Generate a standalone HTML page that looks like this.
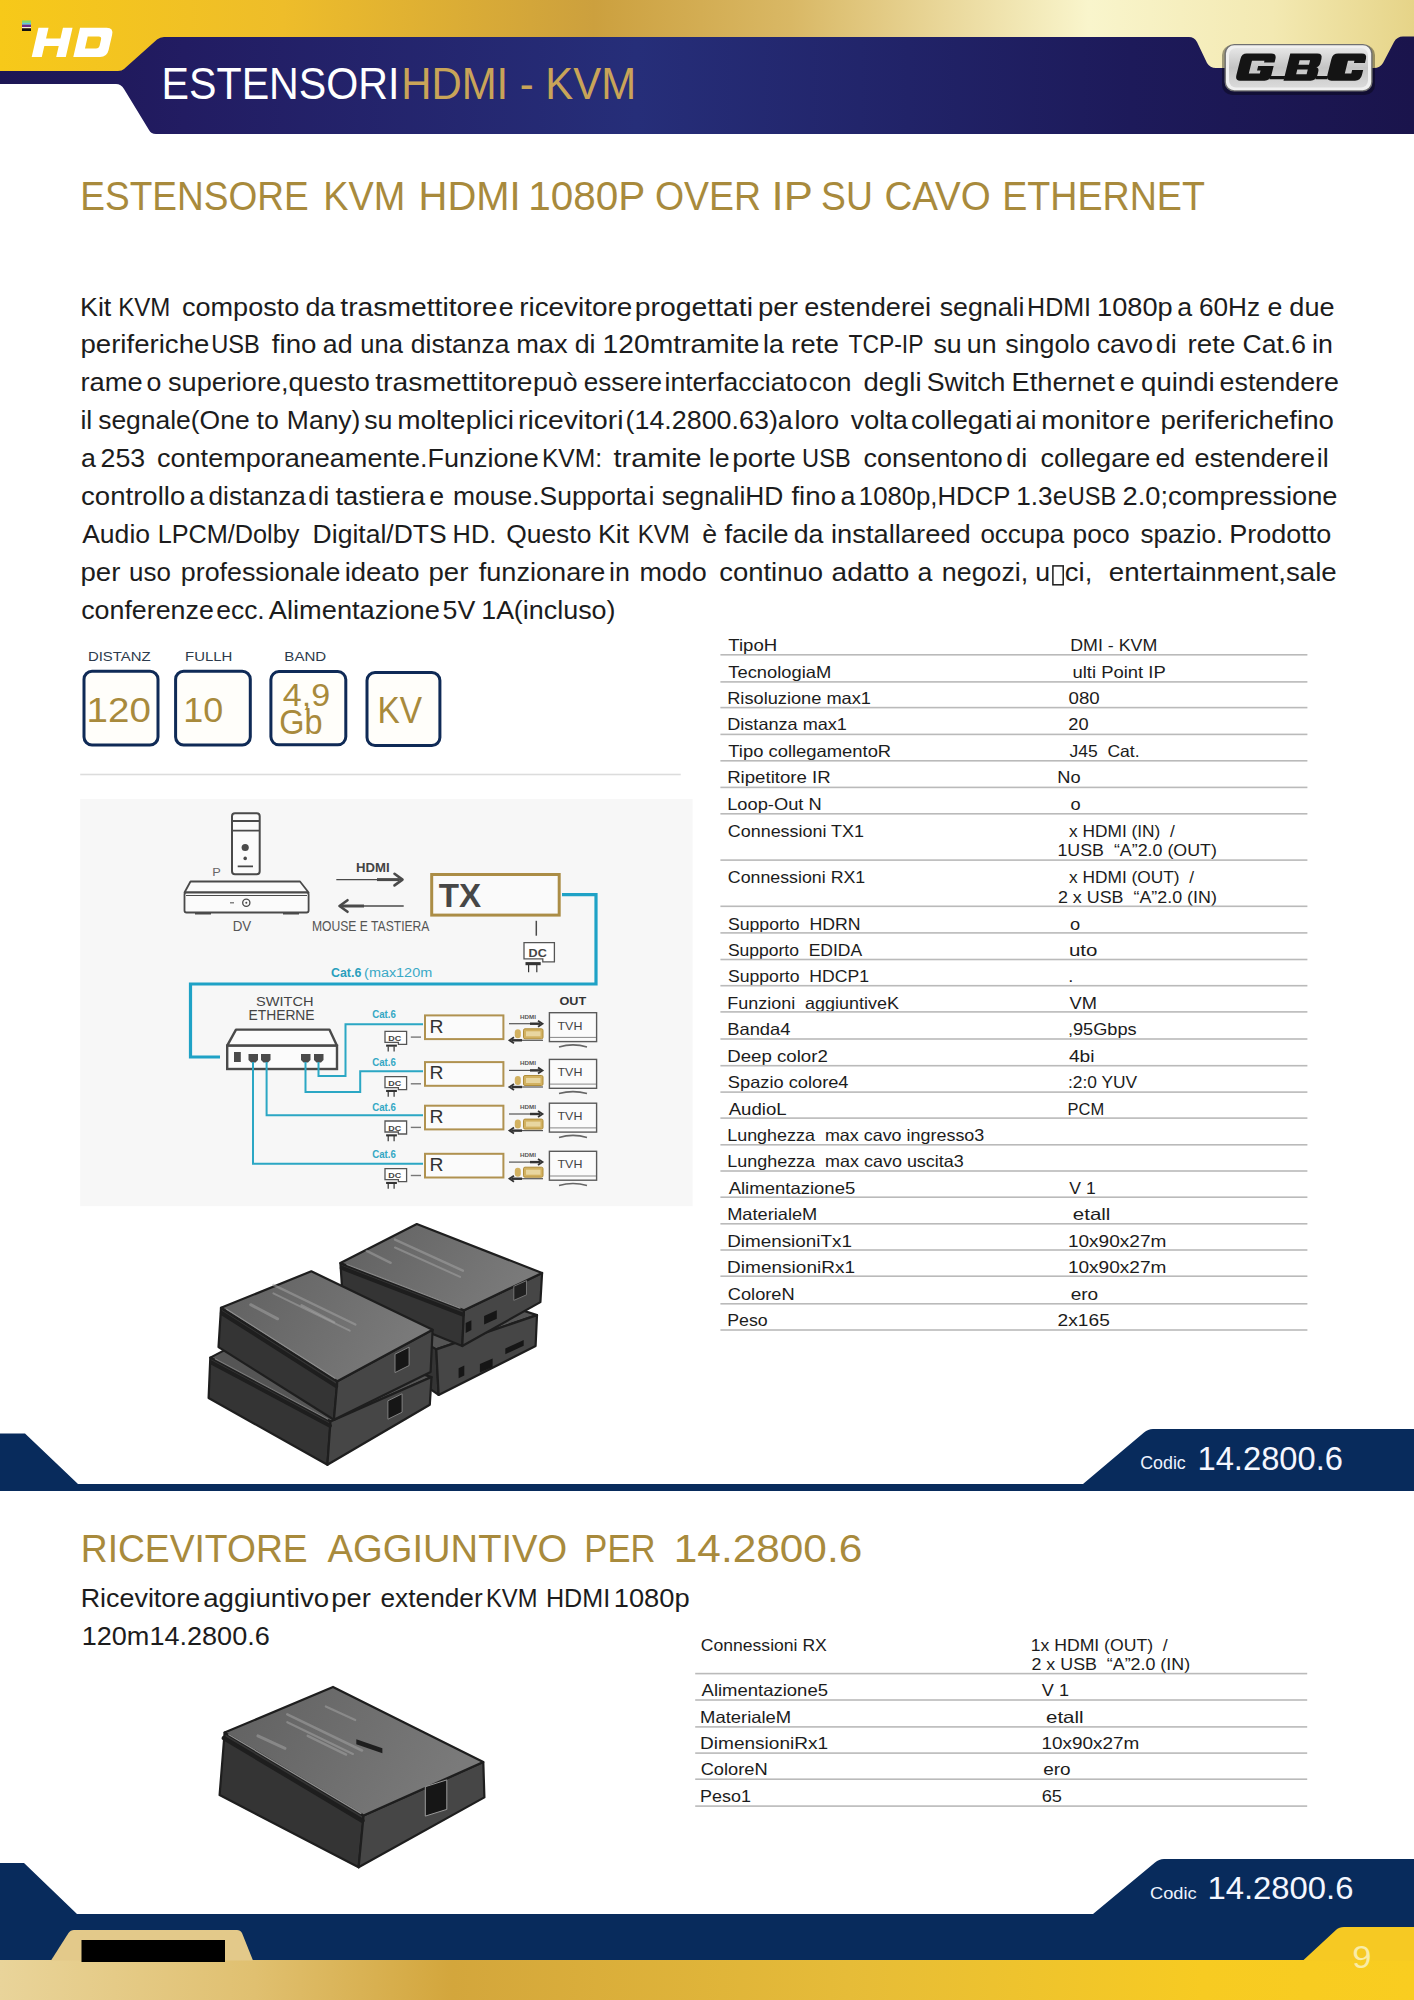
<!DOCTYPE html>
<html><head><meta charset="utf-8"><title>Estensori HDMI - KVM</title>
<style>
html,body{margin:0;padding:0;background:#fff;width:1414px;height:2000px;overflow:hidden}
svg{display:block;position:absolute;left:0;top:0}
text{font-family:"Liberation Sans",sans-serif;white-space:pre}
</style></head><body>
<svg width="1414" height="2000" viewBox="0 0 1414 2000">
<defs>
<linearGradient id="gTop" x1="0" y1="0" x2="1414" y2="0" gradientUnits="userSpaceOnUse">
<stop offset="0" stop-color="#f7c919"/><stop offset="0.2" stop-color="#eebd2a"/>
<stop offset="0.42" stop-color="#cca03e"/><stop offset="0.56" stop-color="#d9b865"/>
<stop offset="0.77" stop-color="#f9f5cc"/><stop offset="0.9" stop-color="#f3e9b2"/>
<stop offset="1" stop-color="#e6d488"/></linearGradient>
<linearGradient id="gNavy" x1="0" y1="0" x2="1414" y2="0" gradientUnits="userSpaceOnUse">
<stop offset="0" stop-color="#1d1654"/><stop offset="0.13" stop-color="#221c62"/><stop offset="0.45" stop-color="#262e79"/>
<stop offset="0.8" stop-color="#1d1a5a"/><stop offset="1" stop-color="#1a144c"/></linearGradient>
<linearGradient id="gSilver" x1="0" y1="0" x2="0" y2="1">
<stop offset="0" stop-color="#e6e6e6"/><stop offset="0.5" stop-color="#c4c4c4"/><stop offset="1" stop-color="#dadada"/></linearGradient>
<linearGradient id="gBot" x1="0" y1="0" x2="1414" y2="0" gradientUnits="userSpaceOnUse">
<stop offset="0" stop-color="#e9d49a"/><stop offset="0.18" stop-color="#e0c070"/>
<stop offset="0.32" stop-color="#d3a63c"/><stop offset="0.6" stop-color="#e6bc38"/>
<stop offset="0.85" stop-color="#f7cb22"/><stop offset="1" stop-color="#f9cd20"/></linearGradient>
</defs>
<rect x="0" y="0" width="1414" height="80" fill="url(#gTop)"/>
<path d="M0 71 L118 71 Q122 71 124 69 L157 39.5 Q160 37 164 37 L1188 37 Q1194 36.5 1197 42 L1207 63 Q1210 68 1216 68 L1374 68 Q1380 68 1383 63 L1394 42 Q1397 36.5 1403 36.5 L1414 36.5 L1414 134 L156 134 Q151 134 149 130 L124 89 Q121 84 116 84 L0 84 Z" fill="url(#gNavy)"/>
<g transform="translate(0,57) skewX(-13) translate(0,-57)" fill="#ffffff"><path d="M31.7 27.8 H41.8 V38.6 H56.2 V27.8 H65.8 V57 H56.2 V46 H41.8 V57 H31.7 Z"/><path fill-rule="evenodd" d="M73.3 27.8 H100 Q107 27.8 107 35 V50 Q107 57 100 57 H73.3 Z M83 36.6 V48.4 H94 Q97 48.4 97 45.5 V39.5 Q97 36.6 94 36.6 Z"/></g>
<rect x="22" y="20.5" width="9" height="2.2" fill="#7fdc6a"/><rect x="22" y="22.7" width="9" height="2" fill="#5fc8e0"/><rect x="22" y="24.7" width="9" height="2.3" fill="#6a2d8a"/><rect x="22" y="27" width="9" height="1.3" fill="#f4f0d8"/><rect x="22" y="28.3" width="9" height="2.7" fill="#111"/>
<rect x="1222" y="45" width="153" height="50" rx="10" fill="#000" opacity="0.35"/>
<rect x="1225.2" y="44.6" width="146.7" height="46.3" rx="9" fill="#f0f0f0" stroke="#707070" stroke-width="1.4"/>
<rect x="1229" y="48" width="139" height="39.5" rx="7" fill="url(#gSilver)"/>
<g transform="translate(0,80.7) skewX(-14) translate(0,-80.7)" fill="#141414" fill-rule="evenodd"><path d="M1240 53.6 H1264.5 Q1270 53.6 1270 59 V62.5 H1259.5 V60.8 H1247 V73.5 H1258 V70.5 H1254.5 V66 H1270 V75 Q1270 80.7 1264.5 80.7 H1240 Q1235 80.7 1235 75 V59 Q1235 53.6 1240 53.6 Z"/><path d="M1269 76 H1284 V79.3 H1269 Z"/><path d="M1283.5 53.6 H1310.5 Q1316 53.6 1316 59 V63 Q1316 66.5 1313 67.2 Q1316 68 1316 71.5 V75 Q1316 80.7 1310.5 80.7 H1283.5 Z M1294.5 60.2 V64.8 H1305 V60.2 Z M1294.5 69.5 V74.2 H1305 V69.5 Z"/><path d="M1315 76 H1327 V79.3 H1315 Z"/><path d="M1331.5 53.6 H1355 Q1360.5 53.6 1360.5 59 V63 H1349.5 V60.8 H1343 V73.5 H1349.5 V70 H1360.5 V75 Q1360.5 80.7 1355 80.7 H1331.5 Q1326 80.7 1326 75 V59 Q1326 53.6 1331.5 53.6 Z"/></g>
<text x="161.52" y="98.80" font-size="45.06" fill="#ffffff" textLength="238.06" lengthAdjust="spacingAndGlyphs">ESTENSORI</text>
<text x="401.17" y="98.80" font-size="45.06" fill="#c9a458" textLength="234.96" lengthAdjust="spacingAndGlyphs">HDMI - KVM</text>
<text x="80.37" y="210.30" font-size="40.12" fill="#a88a3c" textLength="228.23" lengthAdjust="spacingAndGlyphs">ESTENSORE</text>
<text x="323.30" y="210.30" font-size="40.12" fill="#a88a3c" textLength="82.01" lengthAdjust="spacingAndGlyphs">KVM</text>
<text x="418.62" y="210.30" font-size="40.12" fill="#a88a3c" textLength="102.06" lengthAdjust="spacingAndGlyphs">HDMI</text>
<text x="528.32" y="210.30" font-size="40.12" fill="#a88a3c" textLength="117.00" lengthAdjust="spacingAndGlyphs">1080P</text>
<text x="654.94" y="210.30" font-size="40.12" fill="#a88a3c" textLength="105.98" lengthAdjust="spacingAndGlyphs">OVER</text>
<text x="771.59" y="210.30" font-size="40.12" fill="#a88a3c" textLength="41.22" lengthAdjust="spacingAndGlyphs">IP</text>
<text x="821.12" y="210.30" font-size="40.12" fill="#a88a3c" textLength="51.75" lengthAdjust="spacingAndGlyphs">SU</text>
<text x="884.44" y="210.30" font-size="40.12" fill="#a88a3c" textLength="106.30" lengthAdjust="spacingAndGlyphs">CAVO</text>
<text x="1002.22" y="210.30" font-size="40.12" fill="#a88a3c" textLength="202.66" lengthAdjust="spacingAndGlyphs">ETHERNET</text>
<text x="80.00" y="315.50" font-size="25.73" fill="#1c1c1c" textLength="31.29" lengthAdjust="spacingAndGlyphs">Kit</text>
<text x="118.23" y="315.50" font-size="25.73" fill="#1c1c1c" textLength="52.12" lengthAdjust="spacingAndGlyphs">KVM</text>
<text x="181.96" y="315.50" font-size="25.73" fill="#1c1c1c" textLength="117.44" lengthAdjust="spacingAndGlyphs">composto</text>
<text x="305.48" y="315.50" font-size="25.73" fill="#1c1c1c" textLength="29.76" lengthAdjust="spacingAndGlyphs">da</text>
<text x="340.28" y="315.50" font-size="25.73" fill="#1c1c1c" textLength="157.27" lengthAdjust="spacingAndGlyphs">trasmettitore</text>
<text x="498.68" y="315.50" font-size="25.73" fill="#1c1c1c" textLength="14.88" lengthAdjust="spacingAndGlyphs">e</text>
<text x="519.16" y="315.50" font-size="25.73" fill="#1c1c1c" textLength="113.20" lengthAdjust="spacingAndGlyphs">ricevitore</text>
<text x="634.79" y="315.50" font-size="25.73" fill="#1c1c1c" textLength="118.18" lengthAdjust="spacingAndGlyphs">progettati</text>
<text x="758.03" y="315.50" font-size="25.73" fill="#1c1c1c" textLength="39.91" lengthAdjust="spacingAndGlyphs">per</text>
<text x="804.26" y="315.50" font-size="25.73" fill="#1c1c1c" textLength="126.85" lengthAdjust="spacingAndGlyphs">estenderei</text>
<text x="939.75" y="315.50" font-size="25.73" fill="#1c1c1c" textLength="84.76" lengthAdjust="spacingAndGlyphs">segnali</text>
<text x="1027.05" y="315.50" font-size="25.73" fill="#1c1c1c" textLength="63.99" lengthAdjust="spacingAndGlyphs">HDMI</text>
<text x="1097.13" y="315.50" font-size="25.73" fill="#1c1c1c" textLength="75.58" lengthAdjust="spacingAndGlyphs">1080p</text>
<text x="1177.38" y="315.50" font-size="25.73" fill="#1c1c1c" textLength="14.88" lengthAdjust="spacingAndGlyphs">a</text>
<text x="1198.96" y="315.50" font-size="25.73" fill="#1c1c1c" textLength="61.13" lengthAdjust="spacingAndGlyphs">60Hz</text>
<text x="1267.58" y="315.50" font-size="25.73" fill="#1c1c1c" textLength="14.88" lengthAdjust="spacingAndGlyphs">e</text>
<text x="1289.36" y="315.50" font-size="25.73" fill="#1c1c1c" textLength="45.24" lengthAdjust="spacingAndGlyphs">due</text>
<text x="80.43" y="353.30" font-size="25.73" fill="#1c1c1c" textLength="129.01" lengthAdjust="spacingAndGlyphs">periferiche</text>
<text x="211.18" y="353.30" font-size="25.73" fill="#1c1c1c" textLength="48.56" lengthAdjust="spacingAndGlyphs">USB</text>
<text x="271.81" y="353.30" font-size="25.73" fill="#1c1c1c" textLength="44.72" lengthAdjust="spacingAndGlyphs">fino</text>
<text x="322.88" y="353.30" font-size="25.73" fill="#1c1c1c" textLength="29.76" lengthAdjust="spacingAndGlyphs">ad</text>
<text x="360.34" y="353.30" font-size="25.73" fill="#1c1c1c" textLength="42.60" lengthAdjust="spacingAndGlyphs">una</text>
<text x="410.89" y="353.30" font-size="25.73" fill="#1c1c1c" textLength="98.69" lengthAdjust="spacingAndGlyphs">distanza</text>
<text x="516.20" y="353.30" font-size="25.73" fill="#1c1c1c" textLength="51.43" lengthAdjust="spacingAndGlyphs">max</text>
<text x="574.68" y="353.30" font-size="25.73" fill="#1c1c1c" textLength="20.83" lengthAdjust="spacingAndGlyphs">di</text>
<text x="602.55" y="353.30" font-size="25.73" fill="#1c1c1c" textLength="156.89" lengthAdjust="spacingAndGlyphs">120mtramite</text>
<text x="763.11" y="353.30" font-size="25.73" fill="#1c1c1c" textLength="20.83" lengthAdjust="spacingAndGlyphs">la</text>
<text x="791.07" y="353.30" font-size="25.73" fill="#1c1c1c" textLength="47.90" lengthAdjust="spacingAndGlyphs">rete</text>
<text x="848.40" y="353.30" font-size="25.73" fill="#1c1c1c" textLength="75.15" lengthAdjust="spacingAndGlyphs">TCP-IP</text>
<text x="933.45" y="353.30" font-size="25.73" fill="#1c1c1c" textLength="28.26" lengthAdjust="spacingAndGlyphs">su</text>
<text x="966.76" y="353.30" font-size="25.73" fill="#1c1c1c" textLength="29.76" lengthAdjust="spacingAndGlyphs">un</text>
<text x="1005.25" y="353.30" font-size="25.73" fill="#1c1c1c" textLength="84.93" lengthAdjust="spacingAndGlyphs">singolo</text>
<text x="1096.78" y="353.30" font-size="25.73" fill="#1c1c1c" textLength="56.41" lengthAdjust="spacingAndGlyphs">cavo</text>
<text x="1155.88" y="353.30" font-size="25.73" fill="#1c1c1c" textLength="20.83" lengthAdjust="spacingAndGlyphs">di</text>
<text x="1187.57" y="353.30" font-size="25.73" fill="#1c1c1c" textLength="47.90" lengthAdjust="spacingAndGlyphs">rete</text>
<text x="1242.55" y="353.30" font-size="25.73" fill="#1c1c1c" textLength="63.45" lengthAdjust="spacingAndGlyphs">Cat.6</text>
<text x="1312.11" y="353.30" font-size="25.73" fill="#1c1c1c" textLength="20.83" lengthAdjust="spacingAndGlyphs">in</text>
<text x="80.40" y="391.00" font-size="25.73" fill="#1c1c1c" textLength="62.29" lengthAdjust="spacingAndGlyphs">rame</text>
<text x="146.48" y="391.00" font-size="25.73" fill="#1c1c1c" textLength="14.88" lengthAdjust="spacingAndGlyphs">o</text>
<text x="168.04" y="391.00" font-size="25.73" fill="#1c1c1c" textLength="201.82" lengthAdjust="spacingAndGlyphs">superiore,questo</text>
<text x="375.28" y="391.00" font-size="25.73" fill="#1c1c1c" textLength="157.17" lengthAdjust="spacingAndGlyphs">trasmettitore</text>
<text x="532.99" y="391.00" font-size="25.73" fill="#1c1c1c" textLength="44.49" lengthAdjust="spacingAndGlyphs">può</text>
<text x="583.80" y="391.00" font-size="25.73" fill="#1c1c1c" textLength="78.33" lengthAdjust="spacingAndGlyphs">essere</text>
<text x="664.62" y="391.00" font-size="25.73" fill="#1c1c1c" textLength="143.01" lengthAdjust="spacingAndGlyphs">interfacciato</text>
<text x="808.89" y="391.00" font-size="25.73" fill="#1c1c1c" textLength="42.59" lengthAdjust="spacingAndGlyphs">con</text>
<text x="863.55" y="391.00" font-size="25.73" fill="#1c1c1c" textLength="58.01" lengthAdjust="spacingAndGlyphs">degli</text>
<text x="926.80" y="391.00" font-size="25.73" fill="#1c1c1c" textLength="78.68" lengthAdjust="spacingAndGlyphs">Switch</text>
<text x="1011.57" y="391.00" font-size="25.73" fill="#1c1c1c" textLength="102.92" lengthAdjust="spacingAndGlyphs">Ethernet</text>
<text x="1119.88" y="391.00" font-size="25.73" fill="#1c1c1c" textLength="14.88" lengthAdjust="spacingAndGlyphs">e</text>
<text x="1141.04" y="391.00" font-size="25.73" fill="#1c1c1c" textLength="73.68" lengthAdjust="spacingAndGlyphs">quindi</text>
<text x="1219.57" y="391.00" font-size="25.73" fill="#1c1c1c" textLength="119.40" lengthAdjust="spacingAndGlyphs">estendere</text>
<text x="80.41" y="428.90" font-size="25.73" fill="#1c1c1c" textLength="11.89" lengthAdjust="spacingAndGlyphs">il</text>
<text x="98.16" y="428.90" font-size="25.73" fill="#1c1c1c" textLength="151.46" lengthAdjust="spacingAndGlyphs">segnale(One</text>
<text x="256.60" y="428.90" font-size="25.73" fill="#1c1c1c" textLength="22.31" lengthAdjust="spacingAndGlyphs">to</text>
<text x="286.83" y="428.90" font-size="25.73" fill="#1c1c1c" textLength="73.61" lengthAdjust="spacingAndGlyphs">Many)</text>
<text x="364.25" y="428.90" font-size="25.73" fill="#1c1c1c" textLength="28.26" lengthAdjust="spacingAndGlyphs">su</text>
<text x="397.25" y="428.90" font-size="25.73" fill="#1c1c1c" textLength="116.64" lengthAdjust="spacingAndGlyphs">molteplici</text>
<text x="518.13" y="428.90" font-size="25.73" fill="#1c1c1c" textLength="105.35" lengthAdjust="spacingAndGlyphs">ricevitori</text>
<text x="625.53" y="428.90" font-size="25.73" fill="#1c1c1c" textLength="167.27" lengthAdjust="spacingAndGlyphs">(14.2800.63)a</text>
<text x="794.50" y="428.90" font-size="25.73" fill="#1c1c1c" textLength="44.76" lengthAdjust="spacingAndGlyphs">loro</text>
<text x="850.72" y="428.90" font-size="25.73" fill="#1c1c1c" textLength="56.89" lengthAdjust="spacingAndGlyphs">volta</text>
<text x="910.94" y="428.90" font-size="25.73" fill="#1c1c1c" textLength="101.46" lengthAdjust="spacingAndGlyphs">collegati</text>
<text x="1015.58" y="428.90" font-size="25.73" fill="#1c1c1c" textLength="20.83" lengthAdjust="spacingAndGlyphs">ai</text>
<text x="1041.37" y="428.90" font-size="25.73" fill="#1c1c1c" textLength="92.59" lengthAdjust="spacingAndGlyphs">monitor</text>
<text x="1135.88" y="428.90" font-size="25.73" fill="#1c1c1c" textLength="14.88" lengthAdjust="spacingAndGlyphs">e</text>
<text x="1160.43" y="428.90" font-size="25.73" fill="#1c1c1c" textLength="173.43" lengthAdjust="spacingAndGlyphs">periferichefino</text>
<text x="81.08" y="466.70" font-size="25.73" fill="#1c1c1c" textLength="14.88" lengthAdjust="spacingAndGlyphs">a</text>
<text x="100.56" y="466.70" font-size="25.73" fill="#1c1c1c" textLength="44.66" lengthAdjust="spacingAndGlyphs">253</text>
<text x="157.06" y="466.70" font-size="25.73" fill="#1c1c1c" textLength="381.64" lengthAdjust="spacingAndGlyphs">contemporaneamente.Funzione</text>
<text x="541.99" y="466.70" font-size="25.73" fill="#1c1c1c" textLength="60.06" lengthAdjust="spacingAndGlyphs">KVM:</text>
<text x="613.57" y="466.70" font-size="25.73" fill="#1c1c1c" textLength="88.00" lengthAdjust="spacingAndGlyphs">tramite</text>
<text x="708.71" y="466.70" font-size="25.73" fill="#1c1c1c" textLength="20.83" lengthAdjust="spacingAndGlyphs">le</text>
<text x="732.22" y="466.70" font-size="25.73" fill="#1c1c1c" textLength="63.54" lengthAdjust="spacingAndGlyphs">porte</text>
<text x="802.08" y="466.70" font-size="25.73" fill="#1c1c1c" textLength="48.56" lengthAdjust="spacingAndGlyphs">USB</text>
<text x="863.57" y="466.70" font-size="25.73" fill="#1c1c1c" textLength="139.21" lengthAdjust="spacingAndGlyphs">consentono</text>
<text x="1006.28" y="466.70" font-size="25.73" fill="#1c1c1c" textLength="20.83" lengthAdjust="spacingAndGlyphs">di</text>
<text x="1040.46" y="466.70" font-size="25.73" fill="#1c1c1c" textLength="109.78" lengthAdjust="spacingAndGlyphs">collegare</text>
<text x="1155.48" y="466.70" font-size="25.73" fill="#1c1c1c" textLength="29.76" lengthAdjust="spacingAndGlyphs">ed</text>
<text x="1194.46" y="466.70" font-size="25.73" fill="#1c1c1c" textLength="120.53" lengthAdjust="spacingAndGlyphs">estendere</text>
<text x="1316.71" y="466.70" font-size="25.73" fill="#1c1c1c" textLength="11.89" lengthAdjust="spacingAndGlyphs">il</text>
<text x="81.04" y="505.00" font-size="25.73" fill="#1c1c1c" textLength="104.24" lengthAdjust="spacingAndGlyphs">controllo</text>
<text x="189.48" y="505.00" font-size="25.73" fill="#1c1c1c" textLength="14.88" lengthAdjust="spacingAndGlyphs">a</text>
<text x="208.60" y="505.00" font-size="25.73" fill="#1c1c1c" textLength="97.31" lengthAdjust="spacingAndGlyphs">distanza</text>
<text x="308.28" y="505.00" font-size="25.73" fill="#1c1c1c" textLength="20.83" lengthAdjust="spacingAndGlyphs">di</text>
<text x="335.49" y="505.00" font-size="25.73" fill="#1c1c1c" textLength="89.65" lengthAdjust="spacingAndGlyphs">tastiera</text>
<text x="429.28" y="505.00" font-size="25.73" fill="#1c1c1c" textLength="14.88" lengthAdjust="spacingAndGlyphs">e</text>
<text x="452.96" y="505.00" font-size="25.73" fill="#1c1c1c" textLength="193.84" lengthAdjust="spacingAndGlyphs">mouse.Supporta</text>
<text x="648.51" y="505.00" font-size="25.73" fill="#1c1c1c" textLength="5.94" lengthAdjust="spacingAndGlyphs">i</text>
<text x="661.76" y="505.00" font-size="25.73" fill="#1c1c1c" textLength="121.61" lengthAdjust="spacingAndGlyphs">segnaliHD</text>
<text x="791.41" y="505.00" font-size="25.73" fill="#1c1c1c" textLength="44.72" lengthAdjust="spacingAndGlyphs">fino</text>
<text x="840.58" y="505.00" font-size="25.73" fill="#1c1c1c" textLength="14.88" lengthAdjust="spacingAndGlyphs">a</text>
<text x="858.84" y="505.00" font-size="25.73" fill="#1c1c1c" textLength="151.60" lengthAdjust="spacingAndGlyphs">1080p,HDCP</text>
<text x="1016.21" y="505.00" font-size="25.73" fill="#1c1c1c" textLength="51.06" lengthAdjust="spacingAndGlyphs">1.3e</text>
<text x="1067.78" y="505.00" font-size="25.73" fill="#1c1c1c" textLength="48.56" lengthAdjust="spacingAndGlyphs">USB</text>
<text x="1122.64" y="505.00" font-size="25.73" fill="#1c1c1c" textLength="214.86" lengthAdjust="spacingAndGlyphs">2.0;compressione</text>
<text x="82.15" y="543.30" font-size="25.73" fill="#1c1c1c" textLength="67.90" lengthAdjust="spacingAndGlyphs">Audio</text>
<text x="157.63" y="543.30" font-size="25.73" fill="#1c1c1c" textLength="141.76" lengthAdjust="spacingAndGlyphs">LPCM/Dolby</text>
<text x="312.63" y="543.30" font-size="25.73" fill="#1c1c1c" textLength="134.02" lengthAdjust="spacingAndGlyphs">Digital/DTS</text>
<text x="452.62" y="543.30" font-size="25.73" fill="#1c1c1c" textLength="43.61" lengthAdjust="spacingAndGlyphs">HD.</text>
<text x="506.16" y="543.30" font-size="25.73" fill="#1c1c1c" textLength="85.17" lengthAdjust="spacingAndGlyphs">Questo</text>
<text x="597.90" y="543.30" font-size="25.73" fill="#1c1c1c" textLength="31.29" lengthAdjust="spacingAndGlyphs">Kit</text>
<text x="637.73" y="543.30" font-size="25.73" fill="#1c1c1c" textLength="52.12" lengthAdjust="spacingAndGlyphs">KVM</text>
<text x="702.38" y="543.30" font-size="25.73" fill="#1c1c1c" textLength="14.88" lengthAdjust="spacingAndGlyphs">è</text>
<text x="724.41" y="543.30" font-size="25.73" fill="#1c1c1c" textLength="64.24" lengthAdjust="spacingAndGlyphs">facile</text>
<text x="793.68" y="543.30" font-size="25.73" fill="#1c1c1c" textLength="29.76" lengthAdjust="spacingAndGlyphs">da</text>
<text x="830.97" y="543.30" font-size="25.73" fill="#1c1c1c" textLength="139.84" lengthAdjust="spacingAndGlyphs">installareed</text>
<text x="980.41" y="543.30" font-size="25.73" fill="#1c1c1c" textLength="83.85" lengthAdjust="spacingAndGlyphs">occupa</text>
<text x="1072.61" y="543.30" font-size="25.73" fill="#1c1c1c" textLength="57.10" lengthAdjust="spacingAndGlyphs">poco</text>
<text x="1140.47" y="543.30" font-size="25.73" fill="#1c1c1c" textLength="82.84" lengthAdjust="spacingAndGlyphs">spazio.</text>
<text x="1229.18" y="543.30" font-size="25.73" fill="#1c1c1c" textLength="102.16" lengthAdjust="spacingAndGlyphs">Prodotto</text>
<text x="80.43" y="581.00" font-size="25.73" fill="#1c1c1c" textLength="39.91" lengthAdjust="spacingAndGlyphs">per</text>
<text x="129.11" y="581.00" font-size="25.73" fill="#1c1c1c" textLength="41.84" lengthAdjust="spacingAndGlyphs">uso</text>
<text x="180.78" y="581.00" font-size="25.73" fill="#1c1c1c" textLength="159.66" lengthAdjust="spacingAndGlyphs">professionale</text>
<text x="344.66" y="581.00" font-size="25.73" fill="#1c1c1c" textLength="74.94" lengthAdjust="spacingAndGlyphs">ideato</text>
<text x="428.53" y="581.00" font-size="25.73" fill="#1c1c1c" textLength="39.91" lengthAdjust="spacingAndGlyphs">per</text>
<text x="478.72" y="581.00" font-size="25.73" fill="#1c1c1c" textLength="126.62" lengthAdjust="spacingAndGlyphs">funzionare</text>
<text x="609.01" y="581.00" font-size="25.73" fill="#1c1c1c" textLength="20.83" lengthAdjust="spacingAndGlyphs">in</text>
<text x="639.42" y="581.00" font-size="25.73" fill="#1c1c1c" textLength="67.43" lengthAdjust="spacingAndGlyphs">modo</text>
<text x="719.15" y="581.00" font-size="25.73" fill="#1c1c1c" textLength="103.97" lengthAdjust="spacingAndGlyphs">continuo</text>
<text x="831.62" y="581.00" font-size="25.73" fill="#1c1c1c" textLength="77.78" lengthAdjust="spacingAndGlyphs">adatto</text>
<text x="917.58" y="581.00" font-size="25.73" fill="#1c1c1c" textLength="14.88" lengthAdjust="spacingAndGlyphs">a</text>
<text x="941.83" y="581.00" font-size="25.73" fill="#1c1c1c" textLength="86.44" lengthAdjust="spacingAndGlyphs">negozi,</text>
<text x="1035.16" y="581.00" font-size="25.73" fill="#1c1c1c" textLength="14.88" lengthAdjust="spacingAndGlyphs">u</text>
<text x="1064.85" y="581.00" font-size="25.73" fill="#1c1c1c" textLength="27.46" lengthAdjust="spacingAndGlyphs">ci,</text>
<text x="1108.84" y="581.00" font-size="25.73" fill="#1c1c1c" textLength="227.88" lengthAdjust="spacingAndGlyphs">entertainment,sale</text>
<text x="81.17" y="619.00" font-size="25.73" fill="#1c1c1c" textLength="132.72" lengthAdjust="spacingAndGlyphs">conferenze</text>
<text x="216.29" y="619.00" font-size="25.73" fill="#1c1c1c" textLength="48.40" lengthAdjust="spacingAndGlyphs">ecc.</text>
<text x="268.85" y="619.00" font-size="25.73" fill="#1c1c1c" textLength="170.98" lengthAdjust="spacingAndGlyphs">Alimentazione</text>
<text x="442.63" y="619.00" font-size="25.73" fill="#1c1c1c" textLength="32.73" lengthAdjust="spacingAndGlyphs">5V</text>
<text x="481.27" y="619.00" font-size="25.73" fill="#1c1c1c" textLength="32.73" lengthAdjust="spacingAndGlyphs">1A</text>
<text x="513.77" y="619.00" font-size="25.73" fill="#1c1c1c" textLength="101.80" lengthAdjust="spacingAndGlyphs">(incluso)</text>
<rect x="1052.9" y="565.9" width="10.3" height="18.9" fill="none" stroke="#1c1c1c" stroke-width="1.5"/>
<text x="87.98" y="660.60" font-size="13.37" fill="#2c3a4c" textLength="62.68" lengthAdjust="spacingAndGlyphs">DISTANZ</text>
<text x="185.07" y="660.60" font-size="13.37" fill="#2c3a4c" textLength="47.34" lengthAdjust="spacingAndGlyphs">FULLH</text>
<text x="284.36" y="660.60" font-size="13.37" fill="#2c3a4c" textLength="41.86" lengthAdjust="spacingAndGlyphs">BAND</text>
<rect x="84.0" y="671.3" width="74.0" height="73.7" rx="8" fill="#fffefa" stroke="#0f2a56" stroke-width="3"/>
<rect x="175.6" y="671.3" width="74.7" height="73.7" rx="8" fill="#fffefa" stroke="#0f2a56" stroke-width="3"/>
<rect x="270.9" y="671.6" width="74.9" height="73.2" rx="8" fill="#fffefa" stroke="#0f2a56" stroke-width="3"/>
<rect x="367.0" y="672.5" width="72.9" height="73.0" rx="8" fill="#fffefa" stroke="#0f2a56" stroke-width="3"/>
<text x="86.57" y="721.60" font-size="34.88" fill="#a88a3c" textLength="64.25" lengthAdjust="spacingAndGlyphs">120</text>
<text x="183.27" y="721.60" font-size="34.88" fill="#a88a3c" textLength="39.94" lengthAdjust="spacingAndGlyphs">10</text>
<text x="282.72" y="706.00" font-size="32.27" fill="#a88a3c" textLength="47.39" lengthAdjust="spacingAndGlyphs">4,9</text>
<text x="279.18" y="734.20" font-size="34.16" fill="#a88a3c" textLength="43.28" lengthAdjust="spacingAndGlyphs">Gb</text>
<text x="377.46" y="722.80" font-size="36.19" fill="#a88a3c" textLength="44.61" lengthAdjust="spacingAndGlyphs">KV</text>
<rect x="80.2" y="773.7" width="600.5" height="1.6" fill="#dcdcdc"/>
<text x="728.29" y="651.00" font-size="16.28" fill="#1c1c1c" textLength="48.92" lengthAdjust="spacingAndGlyphs">TipoH</text>
<text x="1070.24" y="651.00" font-size="16.28" fill="#1c1c1c" textLength="87.01" lengthAdjust="spacingAndGlyphs">DMI - KVM</text>
<text x="728.30" y="677.80" font-size="16.28" fill="#1c1c1c" textLength="103.01" lengthAdjust="spacingAndGlyphs">TecnologiaM</text>
<text x="1072.50" y="677.80" font-size="16.28" fill="#1c1c1c" textLength="93.28" lengthAdjust="spacingAndGlyphs">ulti Point IP</text>
<text x="727.21" y="703.60" font-size="16.28" fill="#1c1c1c" textLength="143.80" lengthAdjust="spacingAndGlyphs">Risoluzione max1</text>
<text x="1068.57" y="703.60" font-size="16.28" fill="#1c1c1c" textLength="31.17" lengthAdjust="spacingAndGlyphs">080</text>
<text x="727.22" y="730.20" font-size="16.28" fill="#1c1c1c" textLength="119.67" lengthAdjust="spacingAndGlyphs">Distanza max1</text>
<text x="1068.39" y="730.20" font-size="16.28" fill="#1c1c1c" textLength="20.28" lengthAdjust="spacingAndGlyphs">20</text>
<text x="728.30" y="756.80" font-size="16.28" fill="#1c1c1c" textLength="162.86" lengthAdjust="spacingAndGlyphs">Tipo collegamentoR</text>
<text x="1069.42" y="756.80" font-size="16.28" fill="#1c1c1c" textLength="70.18" lengthAdjust="spacingAndGlyphs">J45  Cat.</text>
<text x="727.17" y="783.40" font-size="16.28" fill="#1c1c1c" textLength="103.50" lengthAdjust="spacingAndGlyphs">Ripetitore IR</text>
<text x="1057.30" y="783.40" font-size="16.28" fill="#1c1c1c" textLength="23.31" lengthAdjust="spacingAndGlyphs">No</text>
<text x="727.20" y="809.80" font-size="16.28" fill="#1c1c1c" textLength="94.49" lengthAdjust="spacingAndGlyphs">Loop-Out N</text>
<text x="1070.53" y="809.80" font-size="16.28" fill="#1c1c1c" textLength="10.14" lengthAdjust="spacingAndGlyphs">o</text>
<text x="727.79" y="836.80" font-size="16.28" fill="#1c1c1c" textLength="136.20" lengthAdjust="spacingAndGlyphs">Connessioni TX1</text>
<text x="1069.11" y="836.80" font-size="16.28" fill="#1c1c1c" textLength="105.58" lengthAdjust="spacingAndGlyphs">x HDMI (IN)  /</text>
<text x="1057.45" y="856.30" font-size="16.28" fill="#1c1c1c" textLength="159.46" lengthAdjust="spacingAndGlyphs">1USB  “A”2.0 (OUT)</text>
<text x="727.79" y="882.50" font-size="16.28" fill="#1c1c1c" textLength="137.49" lengthAdjust="spacingAndGlyphs">Connessioni RX1</text>
<text x="1069.11" y="882.50" font-size="16.28" fill="#1c1c1c" textLength="124.89" lengthAdjust="spacingAndGlyphs">x HDMI (OUT)  /</text>
<text x="1057.91" y="903.20" font-size="16.28" fill="#1c1c1c" textLength="159.00" lengthAdjust="spacingAndGlyphs">2 x USB  “A”2.0 (IN)</text>
<text x="727.90" y="929.60" font-size="16.28" fill="#1c1c1c" textLength="132.63" lengthAdjust="spacingAndGlyphs">Supporto  HDRN</text>
<text x="1070.03" y="929.60" font-size="16.28" fill="#1c1c1c" textLength="10.14" lengthAdjust="spacingAndGlyphs">o</text>
<text x="727.91" y="956.00" font-size="16.28" fill="#1c1c1c" textLength="134.23" lengthAdjust="spacingAndGlyphs">Supporto  EDIDA</text>
<text x="1068.97" y="956.00" font-size="16.28" fill="#1c1c1c" textLength="28.50" lengthAdjust="spacingAndGlyphs">uto</text>
<text x="727.91" y="982.40" font-size="16.28" fill="#1c1c1c" textLength="141.16" lengthAdjust="spacingAndGlyphs">Supporto  HDCP1</text>
<text x="1068.34" y="982.40" font-size="16.28" fill="#1c1c1c" textLength="5.07" lengthAdjust="spacingAndGlyphs">.</text>
<text x="727.23" y="1008.80" font-size="16.28" fill="#1c1c1c" textLength="171.78" lengthAdjust="spacingAndGlyphs">Funzioni  aggiuntiveK</text>
<text x="1069.53" y="1008.80" font-size="16.28" fill="#1c1c1c" textLength="27.35" lengthAdjust="spacingAndGlyphs">VM</text>
<text x="727.19" y="1035.00" font-size="16.28" fill="#1c1c1c" textLength="63.34" lengthAdjust="spacingAndGlyphs">Banda4</text>
<text x="1067.96" y="1035.00" font-size="16.28" fill="#1c1c1c" textLength="68.69" lengthAdjust="spacingAndGlyphs">,95Gbps</text>
<text x="727.17" y="1061.90" font-size="16.28" fill="#1c1c1c" textLength="100.67" lengthAdjust="spacingAndGlyphs">Deep color2</text>
<text x="1068.96" y="1061.90" font-size="16.28" fill="#1c1c1c" textLength="25.53" lengthAdjust="spacingAndGlyphs">4bi</text>
<text x="727.88" y="1088.40" font-size="16.28" fill="#1c1c1c" textLength="120.65" lengthAdjust="spacingAndGlyphs">Spazio colore4</text>
<text x="1068.02" y="1088.40" font-size="16.28" fill="#1c1c1c" textLength="69.17" lengthAdjust="spacingAndGlyphs">:2:0 YUV</text>
<text x="728.66" y="1114.70" font-size="16.28" fill="#1c1c1c" textLength="57.95" lengthAdjust="spacingAndGlyphs">AudioL</text>
<text x="1067.55" y="1114.70" font-size="16.28" fill="#1c1c1c" textLength="36.60" lengthAdjust="spacingAndGlyphs">PCM</text>
<text x="727.23" y="1141.20" font-size="16.28" fill="#1c1c1c" textLength="257.06" lengthAdjust="spacingAndGlyphs">Lunghezza  max cavo ingresso3</text>
<text x="727.23" y="1167.40" font-size="16.28" fill="#1c1c1c" textLength="236.57" lengthAdjust="spacingAndGlyphs">Lunghezza  max cavo uscita3</text>
<text x="728.66" y="1194.20" font-size="16.28" fill="#1c1c1c" textLength="126.62" lengthAdjust="spacingAndGlyphs">Alimentazione5</text>
<text x="1069.33" y="1194.20" font-size="16.28" fill="#1c1c1c" textLength="26.33" lengthAdjust="spacingAndGlyphs">V 1</text>
<text x="727.21" y="1220.40" font-size="16.28" fill="#1c1c1c" textLength="90.08" lengthAdjust="spacingAndGlyphs">MaterialeM</text>
<text x="1072.84" y="1220.40" font-size="16.28" fill="#1c1c1c" textLength="37.54" lengthAdjust="spacingAndGlyphs">etall</text>
<text x="727.15" y="1246.90" font-size="16.28" fill="#1c1c1c" textLength="124.78" lengthAdjust="spacingAndGlyphs">DimensioniTx1</text>
<text x="1067.95" y="1246.90" font-size="16.28" fill="#1c1c1c" textLength="98.40" lengthAdjust="spacingAndGlyphs">10x90x27m</text>
<text x="727.14" y="1273.20" font-size="16.28" fill="#1c1c1c" textLength="127.88" lengthAdjust="spacingAndGlyphs">DimensioniRx1</text>
<text x="1067.95" y="1273.20" font-size="16.28" fill="#1c1c1c" textLength="98.40" lengthAdjust="spacingAndGlyphs">10x90x27m</text>
<text x="727.77" y="1300.00" font-size="16.28" fill="#1c1c1c" textLength="66.91" lengthAdjust="spacingAndGlyphs">ColoreN</text>
<text x="1070.70" y="1300.00" font-size="16.28" fill="#1c1c1c" textLength="27.50" lengthAdjust="spacingAndGlyphs">ero</text>
<text x="727.24" y="1326.20" font-size="16.28" fill="#1c1c1c" textLength="40.51" lengthAdjust="spacingAndGlyphs">Peso</text>
<text x="1057.64" y="1326.20" font-size="16.28" fill="#1c1c1c" textLength="52.17" lengthAdjust="spacingAndGlyphs">2x165</text>
<rect x="720.4" y="654.0" width="587" height="1.6" fill="#bababa"/>
<rect x="720.4" y="681.1" width="587" height="1.6" fill="#bababa"/>
<rect x="720.4" y="706.8" width="587" height="1.6" fill="#bababa"/>
<rect x="720.4" y="733.6" width="587" height="1.6" fill="#bababa"/>
<rect x="720.4" y="760.0" width="587" height="1.6" fill="#bababa"/>
<rect x="720.4" y="786.6" width="587" height="1.6" fill="#bababa"/>
<rect x="720.4" y="813.0" width="587" height="1.6" fill="#bababa"/>
<rect x="720.4" y="859.3" width="587" height="1.6" fill="#bababa"/>
<rect x="720.4" y="905.5" width="587" height="1.6" fill="#bababa"/>
<rect x="720.4" y="932.1" width="587" height="1.6" fill="#bababa"/>
<rect x="720.4" y="958.7" width="587" height="1.6" fill="#bababa"/>
<rect x="720.4" y="984.9" width="587" height="1.6" fill="#bababa"/>
<rect x="720.4" y="1011.1" width="587" height="1.6" fill="#bababa"/>
<rect x="720.4" y="1038.2" width="587" height="1.6" fill="#bababa"/>
<rect x="720.4" y="1064.9" width="587" height="1.6" fill="#bababa"/>
<rect x="720.4" y="1091.3" width="587" height="1.6" fill="#bababa"/>
<rect x="720.4" y="1117.3" width="587" height="1.6" fill="#bababa"/>
<rect x="720.4" y="1144.0" width="587" height="1.6" fill="#bababa"/>
<rect x="720.4" y="1170.2" width="587" height="1.6" fill="#bababa"/>
<rect x="720.4" y="1196.4" width="587" height="1.6" fill="#bababa"/>
<rect x="720.4" y="1223.0" width="587" height="1.6" fill="#bababa"/>
<rect x="720.4" y="1249.2" width="587" height="1.6" fill="#bababa"/>
<rect x="720.4" y="1275.4" width="587" height="1.6" fill="#bababa"/>
<rect x="720.4" y="1303.0" width="587" height="1.6" fill="#bababa"/>
<rect x="720.4" y="1329.2" width="587" height="1.6" fill="#bababa"/>
<rect x="80.2" y="799" width="612.4" height="407.2" fill="#f7f7f7"/>
<rect x="232" y="813.3" width="27.7" height="61" rx="3" fill="#fbfbfb" stroke="#4a4a4a" stroke-width="2"/>
<path d="M232 821 H259.7 M232 830.7 H259.7 M237.7 866.3 H253" stroke="#4a4a4a" stroke-width="1.8" fill="none"/>
<circle cx="245.2" cy="847.5" r="3.6" fill="#4a4a4a"/><circle cx="245.2" cy="858.4" r="1.8" fill="#4a4a4a"/>
<text x="212.15" y="875.50" font-size="10.90" fill="#666" textLength="8.53" lengthAdjust="spacingAndGlyphs">P</text>
<path d="M190.5 881.5 H300 L308.6 892.5 H184.5 Z" fill="#fbfbfb" stroke="#4a4a4a" stroke-width="1.8" stroke-linejoin="round"/>
<rect x="184.5" y="892.5" width="124.1" height="20" rx="2" fill="#fbfbfb" stroke="#4a4a4a" stroke-width="1.8"/>
<path d="M186 895.5 H307" stroke="#4a4a4a" stroke-width="1"/>
<path d="M195 913.5 H211 M283 913.5 H299" stroke="#4a4a4a" stroke-width="2.2"/>
<path d="M230 902.8 H234" stroke="#666" stroke-width="1.2"/><circle cx="246.3" cy="902.8" r="3.6" fill="none" stroke="#4a4a4a" stroke-width="1.3"/><circle cx="246.3" cy="902.8" r="1" fill="#4a4a4a"/>
<text x="232.70" y="930.70" font-size="13.81" fill="#555" textLength="18.56" lengthAdjust="spacingAndGlyphs">DV</text>
<text x="356.12" y="871.70" font-size="12.06" fill="#444" font-weight="bold" textLength="33.56" lengthAdjust="spacingAndGlyphs">HDMI</text>
<path d="M336.3 879.6 H401" stroke="#4a4a4a" stroke-width="1.4"/><path d="M377 879.6 H399" stroke="#4a4a4a" stroke-width="3"/><path d="M394.5 873.8 L402.5 879.6 L394.5 885.4" fill="none" stroke="#4a4a4a" stroke-width="2.6" stroke-linejoin="round" stroke-linecap="round"/>
<path d="M341 906 H403.7" stroke="#4a4a4a" stroke-width="1.4"/><path d="M341 906 H364" stroke="#4a4a4a" stroke-width="3"/><path d="M347.5 900.2 L339.5 906 L347.5 911.8" fill="none" stroke="#4a4a4a" stroke-width="2.6" stroke-linejoin="round" stroke-linecap="round"/>
<text x="312.01" y="930.70" font-size="13.81" fill="#555" textLength="117.42" lengthAdjust="spacingAndGlyphs">MOUSE E TASTIERA</text>
<rect x="431.7" y="874.5" width="127.5" height="40.6" fill="#fafafa" stroke="#ab8d46" stroke-width="3"/>
<text x="438.74" y="906.70" font-size="32.99" fill="#474747" font-weight="bold" textLength="42.36" lengthAdjust="spacingAndGlyphs">TX</text>
<path d="M562 894.7 H596 V984 H190.5 V1057 H220" fill="none" stroke="#1fa2c6" stroke-width="3.2"/>
<text x="330.99" y="976.60" font-size="12.65" fill="#2a9fbd" font-weight="bold" textLength="30.36" lengthAdjust="spacingAndGlyphs">Cat.6</text>
<text x="364.11" y="976.60" font-size="12.65" fill="#3aa9c6" textLength="68.04" lengthAdjust="spacingAndGlyphs">(max120m</text>
<path d="M536.3 920.8 V935.7" stroke="#4a4a4a" stroke-width="1.5"/>
<path d="M524 942.7 H554.4 V961.8000000000001 H542.8 V958.9 H524 Z" fill="#fff" stroke="#555" stroke-width="1.3"/><text x="528.63" y="957.22" font-size="11.10" fill="#444" font-weight="bold" textLength="18.21" lengthAdjust="spacingAndGlyphs">DC</text><rect x="525.5" y="962.1" width="15.2" height="3.1" fill="#333"/><path d="M528.6 964.9 V972.3 M536.8 964.9 V972.3" stroke="#333" stroke-width="1.2"/>
<text x="256.04" y="1005.80" font-size="13.52" fill="#444" textLength="57.54" lengthAdjust="spacingAndGlyphs">SWITCH</text>
<text x="248.47" y="1020.30" font-size="14.10" fill="#444" textLength="66.14" lengthAdjust="spacingAndGlyphs">ETHERNE</text>
<path d="M236 1029.6 H329.4 L337 1045.7 H227.2 Z" fill="#fbfbfb" stroke="#4a4a4a" stroke-width="2.4" stroke-linejoin="round"/>
<rect x="227.2" y="1045.7" width="109.8" height="23.3" fill="#fbfbfb" stroke="#4a4a4a" stroke-width="2.4"/>
<rect x="234" y="1052" width="6.8" height="10" fill="#4a4a4a"/>
<path d="M248.5 1054 H258.0 V1060 L255.5 1062.5 H251.0 L248.5 1060 Z" fill="#4a4a4a"/>
<path d="M261 1054 H270.5 V1060 L268 1062.5 H263.5 L261 1060 Z" fill="#4a4a4a"/>
<path d="M301 1054 H310.5 V1060 L308 1062.5 H303.5 L301 1060 Z" fill="#4a4a4a"/>
<path d="M314 1054 H323.5 V1060 L321 1062.5 H316.5 L314 1060 Z" fill="#4a4a4a"/>
<path d="M318.5 1062 V1076 H345.5 V1024.2 H423 M305.5 1062 V1092 H360.2 V1071.2 H423 M266.6 1062 V1115.3 H423 M253 1062 V1163.7 H423" fill="none" stroke="#2ba7c4" stroke-width="2"/>
<text x="559.48" y="1004.90" font-size="11.48" fill="#333" font-weight="bold" textLength="26.76" lengthAdjust="spacingAndGlyphs">OUT</text>
<rect x="425" y="1015.4" width="78.4" height="23.7" fill="#fbfbfb" stroke="#b09250" stroke-width="2"/>
<text x="429.41" y="1032.60" font-size="18.90" fill="#333" textLength="13.98" lengthAdjust="spacingAndGlyphs">R</text>
<text x="372.20" y="1017.70" font-size="10.17" fill="#34a8c4" font-weight="bold" textLength="23.65" lengthAdjust="spacingAndGlyphs">Cat.6</text>
<path d="M385 1031.3 H406.6 V1044.3 H398.4 V1042.3 H385 Z" fill="#fff" stroke="#555" stroke-width="1.3"/><text x="388.29" y="1041.18" font-size="7.56" fill="#444" font-weight="bold" textLength="12.94" lengthAdjust="spacingAndGlyphs">DC</text><rect x="386.1" y="1044.6" width="10.8" height="2.1" fill="#333"/><path d="M388.2 1046.4 V1051.5 M394.1 1046.4 V1051.5" stroke="#333" stroke-width="1.2"/>
<path d="M410.8 1037.1 H421" stroke="#777" stroke-width="1.4"/>
<path d="M509 1023.7 H541" stroke="#555" stroke-width="1.2"/><path d="M530 1023.7 H540" stroke="#333" stroke-width="2.4"/><path d="M538 1020.7 L542.5 1023.7 L538 1026.7" fill="none" stroke="#333" stroke-width="1.8"/>
<text x="520.08" y="1018.70" font-size="5.09" fill="#555" font-weight="bold" textLength="15.83" lengthAdjust="spacingAndGlyphs">HDMI</text>
<rect x="523.5" y="1028.8" width="19.5" height="10" rx="1.5" fill="#d2b160" stroke="#b08d3a" stroke-width="1"/><rect x="526" y="1031.3" width="14.5" height="5" fill="#e8d6a0"/><rect x="514.8" y="1029.3" width="6" height="9" rx="3" fill="#d2b160"/>
<path d="M511 1040.3 H543" stroke="#555" stroke-width="1.2"/><path d="M512 1040.3 H522" stroke="#333" stroke-width="2.4"/><path d="M514 1037.3 L509.5 1040.3 L514 1043.3" fill="none" stroke="#333" stroke-width="1.8"/>
<rect x="549.4" y="1012.7" width="47.2" height="28.9" fill="#fbfbfb" stroke="#5a5a5a" stroke-width="1.4"/><path d="M550 1037.4 H596" stroke="#888" stroke-width="1"/><path d="M559 1046.9 Q573 1042.9 587 1046.9" fill="none" stroke="#666" stroke-width="1.6"/>
<text x="557.53" y="1029.60" font-size="11.34" fill="#444" textLength="24.88" lengthAdjust="spacingAndGlyphs">TVH</text>
<rect x="425" y="1062.1" width="78.4" height="23.7" fill="#fbfbfb" stroke="#b09250" stroke-width="2"/>
<text x="429.41" y="1079.30" font-size="18.90" fill="#333" textLength="13.98" lengthAdjust="spacingAndGlyphs">R</text>
<text x="372.20" y="1065.60" font-size="10.17" fill="#34a8c4" font-weight="bold" textLength="23.65" lengthAdjust="spacingAndGlyphs">Cat.6</text>
<path d="M385 1076.6 H406.6 V1089.6 H398.4 V1087.6 H385 Z" fill="#fff" stroke="#555" stroke-width="1.3"/><text x="388.29" y="1086.48" font-size="7.56" fill="#444" font-weight="bold" textLength="12.94" lengthAdjust="spacingAndGlyphs">DC</text><rect x="386.1" y="1089.9" width="10.8" height="2.1" fill="#333"/><path d="M388.2 1091.7 V1096.8 M394.1 1091.7 V1096.8" stroke="#333" stroke-width="1.2"/>
<path d="M410.8 1083.8 H421" stroke="#777" stroke-width="1.4"/>
<path d="M509 1070.4 H541" stroke="#555" stroke-width="1.2"/><path d="M530 1070.4 H540" stroke="#333" stroke-width="2.4"/><path d="M538 1067.4 L542.5 1070.4 L538 1073.4" fill="none" stroke="#333" stroke-width="1.8"/>
<text x="520.08" y="1065.40" font-size="5.09" fill="#555" font-weight="bold" textLength="15.83" lengthAdjust="spacingAndGlyphs">HDMI</text>
<rect x="523.5" y="1075.5" width="19.5" height="10" rx="1.5" fill="#d2b160" stroke="#b08d3a" stroke-width="1"/><rect x="526" y="1078.0" width="14.5" height="5" fill="#e8d6a0"/><rect x="514.8" y="1076.0" width="6" height="9" rx="3" fill="#d2b160"/>
<path d="M511 1087.0 H543" stroke="#555" stroke-width="1.2"/><path d="M512 1087.0 H522" stroke="#333" stroke-width="2.4"/><path d="M514 1084.0 L509.5 1087.0 L514 1090.0" fill="none" stroke="#333" stroke-width="1.8"/>
<rect x="549.4" y="1059.4" width="47.2" height="28.9" fill="#fbfbfb" stroke="#5a5a5a" stroke-width="1.4"/><path d="M550 1084.1 H596" stroke="#888" stroke-width="1"/><path d="M559 1093.6 Q573 1089.6 587 1093.6" fill="none" stroke="#666" stroke-width="1.6"/>
<text x="557.53" y="1076.30" font-size="11.34" fill="#444" textLength="24.88" lengthAdjust="spacingAndGlyphs">TVH</text>
<rect x="425" y="1105.7" width="78.4" height="23.7" fill="#fbfbfb" stroke="#b09250" stroke-width="2"/>
<text x="429.41" y="1122.90" font-size="18.90" fill="#333" textLength="13.98" lengthAdjust="spacingAndGlyphs">R</text>
<text x="372.20" y="1111.00" font-size="10.17" fill="#34a8c4" font-weight="bold" textLength="23.65" lengthAdjust="spacingAndGlyphs">Cat.6</text>
<path d="M385 1121 H406.6 V1134 H398.4 V1132.0 H385 Z" fill="#fff" stroke="#555" stroke-width="1.3"/><text x="388.29" y="1130.88" font-size="7.56" fill="#444" font-weight="bold" textLength="12.94" lengthAdjust="spacingAndGlyphs">DC</text><rect x="386.1" y="1134.3" width="10.8" height="2.1" fill="#333"/><path d="M388.2 1136.1 V1141.2 M394.1 1136.1 V1141.2" stroke="#333" stroke-width="1.2"/>
<path d="M410.8 1127.4 H421" stroke="#777" stroke-width="1.4"/>
<path d="M509 1114.0 H541" stroke="#555" stroke-width="1.2"/><path d="M530 1114.0 H540" stroke="#333" stroke-width="2.4"/><path d="M538 1111.0 L542.5 1114.0 L538 1117.0" fill="none" stroke="#333" stroke-width="1.8"/>
<text x="520.08" y="1109.00" font-size="5.09" fill="#555" font-weight="bold" textLength="15.83" lengthAdjust="spacingAndGlyphs">HDMI</text>
<rect x="523.5" y="1119.1" width="19.5" height="10" rx="1.5" fill="#d2b160" stroke="#b08d3a" stroke-width="1"/><rect x="526" y="1121.6" width="14.5" height="5" fill="#e8d6a0"/><rect x="514.8" y="1119.6" width="6" height="9" rx="3" fill="#d2b160"/>
<path d="M511 1130.6 H543" stroke="#555" stroke-width="1.2"/><path d="M512 1130.6 H522" stroke="#333" stroke-width="2.4"/><path d="M514 1127.6 L509.5 1130.6 L514 1133.6" fill="none" stroke="#333" stroke-width="1.8"/>
<rect x="549.4" y="1103.2" width="47.2" height="28.9" fill="#fbfbfb" stroke="#5a5a5a" stroke-width="1.4"/><path d="M550 1127.9 H596" stroke="#888" stroke-width="1"/><path d="M559 1137.4 Q573 1133.4 587 1137.4" fill="none" stroke="#666" stroke-width="1.6"/>
<text x="557.53" y="1120.10" font-size="11.34" fill="#444" textLength="24.88" lengthAdjust="spacingAndGlyphs">TVH</text>
<rect x="425" y="1153.8" width="78.4" height="23.7" fill="#fbfbfb" stroke="#b09250" stroke-width="2"/>
<text x="429.41" y="1171.00" font-size="18.90" fill="#333" textLength="13.98" lengthAdjust="spacingAndGlyphs">R</text>
<text x="372.20" y="1158.20" font-size="10.17" fill="#34a8c4" font-weight="bold" textLength="23.65" lengthAdjust="spacingAndGlyphs">Cat.6</text>
<path d="M385 1168.6 H406.6 V1181.6 H398.4 V1179.6 H385 Z" fill="#fff" stroke="#555" stroke-width="1.3"/><text x="388.29" y="1178.48" font-size="7.56" fill="#444" font-weight="bold" textLength="12.94" lengthAdjust="spacingAndGlyphs">DC</text><rect x="386.1" y="1181.9" width="10.8" height="2.1" fill="#333"/><path d="M388.2 1183.7 V1188.8 M394.1 1183.7 V1188.8" stroke="#333" stroke-width="1.2"/>
<path d="M410.8 1175.5 H421" stroke="#777" stroke-width="1.4"/>
<path d="M509 1162.1 H541" stroke="#555" stroke-width="1.2"/><path d="M530 1162.1 H540" stroke="#333" stroke-width="2.4"/><path d="M538 1159.1 L542.5 1162.1 L538 1165.1" fill="none" stroke="#333" stroke-width="1.8"/>
<text x="520.08" y="1157.10" font-size="5.09" fill="#555" font-weight="bold" textLength="15.83" lengthAdjust="spacingAndGlyphs">HDMI</text>
<rect x="523.5" y="1167.2" width="19.5" height="10" rx="1.5" fill="#d2b160" stroke="#b08d3a" stroke-width="1"/><rect x="526" y="1169.7" width="14.5" height="5" fill="#e8d6a0"/><rect x="514.8" y="1167.7" width="6" height="9" rx="3" fill="#d2b160"/>
<path d="M511 1178.7 H543" stroke="#555" stroke-width="1.2"/><path d="M512 1178.7 H522" stroke="#333" stroke-width="2.4"/><path d="M514 1175.7 L509.5 1178.7 L514 1181.7" fill="none" stroke="#333" stroke-width="1.8"/>
<rect x="549.4" y="1151.3" width="47.2" height="28.9" fill="#fbfbfb" stroke="#5a5a5a" stroke-width="1.4"/><path d="M550 1176.0 H596" stroke="#888" stroke-width="1"/><path d="M559 1185.5 Q573 1181.5 587 1185.5" fill="none" stroke="#666" stroke-width="1.6"/>
<text x="557.53" y="1168.20" font-size="11.34" fill="#444" textLength="24.88" lengthAdjust="spacingAndGlyphs">TVH</text>
<defs><linearGradient id="gTopFace" x1="0" y1="0" x2="1" y2="0.3"><stop offset="0" stop-color="#606060"/><stop offset="1" stop-color="#7a7a7a"/></linearGradient></defs>
<polygon points="378.0,1324.5 513.8,1307.5 537.0,1315.1 436.3,1349.4 423.3,1342.9" fill="#555555" stroke="#1e1e1e" stroke-width="2.2" stroke-linejoin="round"/>
<polygon points="425.0,1342.9 436.3,1349.4 438.6,1394.9 427.8,1387.3" fill="#343434" stroke="#1e1e1e" stroke-width="2.2" stroke-linejoin="round"/>
<polygon points="436.3,1349.4 537.0,1315.1 535.6,1346.0 438.6,1394.9" fill="#464646" stroke="#1e1e1e" stroke-width="2.2" stroke-linejoin="round"/>
<polygon points="340.4,1263.1 464.0,1310.3 462.3,1346.0 342.7,1297.6" fill="#343434" stroke="#1e1e1e" stroke-width="2.2" stroke-linejoin="round"/>
<polygon points="464.0,1310.3 542.1,1273.0 540.4,1302.1 462.3,1346.0" fill="#464646" stroke="#1e1e1e" stroke-width="2.2" stroke-linejoin="round"/>
<polygon points="340.4,1263.1 416.8,1224.0 542.1,1273.0 464.0,1310.3" fill="url(#gTopFace)" stroke="#1e1e1e" stroke-width="2.2" stroke-linejoin="round"/>
<polyline points="341.8,1267.9 462.9,1314.6" fill="none" stroke="#1e1e1e" stroke-width="4" stroke-linecap="round" stroke-linejoin="round" />
<polyline points="346.9,1264.5 460.1,1308.1" fill="none" stroke="#8a8a8a" stroke-width="1.2" stroke-linecap="round" stroke-linejoin="round" />
<polygon points="210.3,1357.6 273.4,1324.5 431.5,1377.1 330.5,1421.5" fill="#555555" stroke="#1e1e1e" stroke-width="2.2" stroke-linejoin="round"/>
<polygon points="210.3,1357.6 330.5,1421.5 327.4,1464.8 208.6,1398.0" fill="#343434" stroke="#1e1e1e" stroke-width="2.2" stroke-linejoin="round"/>
<polygon points="330.5,1421.5 431.5,1377.1 429.8,1404.8 327.4,1464.8" fill="#464646" stroke="#1e1e1e" stroke-width="2.2" stroke-linejoin="round"/>
<polyline points="211.7,1362.7 329.9,1425.7" fill="none" stroke="#1e1e1e" stroke-width="4" stroke-linecap="round" stroke-linejoin="round" />
<polyline points="215.4,1359.0 327.7,1419.0" fill="none" stroke="#7c7c7c" stroke-width="1.2" stroke-linecap="round" stroke-linejoin="round" />
<polygon points="221.0,1307.8 337.3,1381.3 333.9,1419.8 218.5,1347.1" fill="#343434" stroke="#1e1e1e" stroke-width="2.2" stroke-linejoin="round"/>
<polygon points="337.3,1381.3 432.6,1329.8 430.6,1372.0 333.9,1419.8" fill="#464646" stroke="#1e1e1e" stroke-width="2.2" stroke-linejoin="round"/>
<polygon points="221.0,1307.8 311.3,1271.3 432.6,1329.8 337.3,1381.3" fill="url(#gTopFace)" stroke="#1e1e1e" stroke-width="2.2" stroke-linejoin="round"/>
<polyline points="221.9,1313.2 336.2,1386.1" fill="none" stroke="#1e1e1e" stroke-width="4" stroke-linecap="round" stroke-linejoin="round" />
<polyline points="226.7,1309.2 335.0,1378.2" fill="none" stroke="#8e8e8e" stroke-width="1.2" stroke-linecap="round" stroke-linejoin="round" />
<polyline points="250.7,1304.7 277.6,1318.8" fill="none" stroke="#a8a8a8" stroke-width="3.0" stroke-linecap="round" stroke-linejoin="round" opacity="0.5"/>
<polyline points="273.4,1284.9 355.4,1324.5" fill="none" stroke="#a8a8a8" stroke-width="2.4" stroke-linecap="round" stroke-linejoin="round" opacity="0.5"/>
<polyline points="273.4,1293.4 349.7,1330.7" fill="none" stroke="#a8a8a8" stroke-width="2.0" stroke-linecap="round" stroke-linejoin="round" opacity="0.5"/>
<polyline points="301.6,1305.2 334.2,1322.2" fill="none" stroke="#a8a8a8" stroke-width="2.4" stroke-linecap="round" stroke-linejoin="round" opacity="0.5"/>
<polyline points="366.7,1250.9 390.7,1262.8" fill="none" stroke="#a8a8a8" stroke-width="2.4" stroke-linecap="round" stroke-linejoin="round" opacity="0.5"/>
<polyline points="395.0,1239.6 462.9,1270.7" fill="none" stroke="#a8a8a8" stroke-width="2.4" stroke-linecap="round" stroke-linejoin="round" opacity="0.5"/>
<polyline points="395.0,1247.5 460.1,1276.9" fill="none" stroke="#a8a8a8" stroke-width="2.0" stroke-linecap="round" stroke-linejoin="round" opacity="0.5"/>
<polygon points="395.0,1354.2 409.1,1347.1 409.1,1365.5 395.0,1372.6" fill="#161616" stroke="#8a8a8a" stroke-width="0.9"/>
<polygon points="387.9,1400.8 402.1,1393.8 402.1,1412.2 387.9,1419.2" fill="#161616" stroke="#8a8a8a" stroke-width="0.9"/>
<polygon points="513.8,1286.3 526.5,1280.6 526.5,1294.8 513.8,1300.4" fill="#202020" stroke="#7a7a7a" stroke-width="0.9"/>
<polygon points="484.1,1316.0 496.8,1310.3 496.8,1318.8 484.1,1324.5" fill="#161616" />
<polygon points="465.7,1323.1 471.4,1320.2 471.4,1330.1 465.7,1333.0" fill="#161616" />
<polygon points="479.9,1364.1 492.6,1358.4 492.6,1366.9 479.9,1372.6" fill="#161616" />
<polygon points="505.3,1348.5 523.7,1340.0 523.7,1345.7 505.3,1354.2" fill="#161616" />
<polygon points="458.6,1368.3 464.3,1365.5 464.3,1375.4 458.6,1378.2" fill="#161616" />
<polygon points="224.6,1732.6 363.6,1815.5 358.6,1867.3 219.6,1795.1" fill="#343434" stroke="#1e1e1e" stroke-width="2.2" stroke-linejoin="round"/>
<polygon points="363.6,1815.5 483.3,1762.1 484.4,1797.4 358.6,1867.3" fill="#464646" stroke="#1e1e1e" stroke-width="2.2" stroke-linejoin="round"/>
<polygon points="224.6,1732.6 333.0,1686.9 483.3,1762.1 363.6,1815.5" fill="url(#gTopFace)" stroke="#1e1e1e" stroke-width="2.2" stroke-linejoin="round"/>
<polyline points="223.9,1738.1 362.4,1820.7" fill="none" stroke="#1e1e1e" stroke-width="4.5" stroke-linecap="round" stroke-linejoin="round" />
<polyline points="228.9,1734.7 360.9,1813.4" fill="none" stroke="#8e8e8e" stroke-width="1.3" stroke-linecap="round" stroke-linejoin="round" />
<polyline points="257.9,1735.8 285.0,1748.3" fill="none" stroke="#a8a8a8" stroke-width="3.0" stroke-linecap="round" stroke-linejoin="round" opacity="0.5"/>
<polyline points="287.3,1714.3 362.0,1750.5" fill="none" stroke="#a8a8a8" stroke-width="2.6" stroke-linecap="round" stroke-linejoin="round" opacity="0.5"/>
<polyline points="287.3,1722.2 352.9,1753.9" fill="none" stroke="#a8a8a8" stroke-width="2.2" stroke-linecap="round" stroke-linejoin="round" opacity="0.5"/>
<polyline points="307.7,1735.8 346.1,1754.6" fill="none" stroke="#a8a8a8" stroke-width="2.4" stroke-linecap="round" stroke-linejoin="round" opacity="0.5"/>
<polyline points="325.8,1706.4 355.2,1720.0" fill="none" stroke="#a8a8a8" stroke-width="2.2" stroke-linecap="round" stroke-linejoin="round" opacity="0.5"/>
<polygon points="356.3,1739.2 382.4,1748.3 382.4,1753.2 356.3,1744.2" fill="#1e1e1e" />
<polygon points="425.3,1786.7 446.8,1779.9 446.8,1809.4 425.3,1816.1" fill="#161616" stroke="#9a9a9a" stroke-width="1"/>
<path d="M0 1433.4 H25 L78 1484 H1083 L1144 1432.5 Q1148 1429 1153 1429 H1414 V1491 H0 Z" fill="#082b5c"/>
<text x="1140.19" y="1469.20" font-size="17.73" fill="#eef3ff" textLength="45.57" lengthAdjust="spacingAndGlyphs">Codic</text>
<text x="1197.52" y="1469.50" font-size="32.41" fill="#f4f7ff" textLength="145.41" lengthAdjust="spacingAndGlyphs">14.2800.6</text>
<path d="M0 1863 H24 L77 1914 H1093 L1155 1862.5 Q1159 1859 1164 1859 H1414 V1962 H0 Z" fill="#082b5c"/>
<rect x="0" y="1960" width="1414" height="40" fill="url(#gBot)"/>
<path d="M51 1960.5 L68.5 1933 Q70.5 1930 74 1930 H237 Q240.4 1930 242 1933 L253 1960.5 Z" fill="#e3c98a"/>
<path d="M1303 1960.5 L1336.5 1929.5 Q1339 1927 1344 1927 H1414 V1960.5 Z" fill="#f6c923"/>
<rect x="81.5" y="1940" width="143.5" height="22" fill="#000"/>
<text x="1149.97" y="1899.10" font-size="16.86" fill="#eef3ff" textLength="46.70" lengthAdjust="spacingAndGlyphs">Codic</text>
<text x="1207.40" y="1899.10" font-size="30.81" fill="#f4f7ff" textLength="146.13" lengthAdjust="spacingAndGlyphs">14.2800.6</text>
<text x="1352.37" y="1968.00" font-size="30.52" fill="#f9eca8" textLength="19.26" lengthAdjust="spacingAndGlyphs">9</text>
<text x="80.75" y="1562.00" font-size="39.54" fill="#a88a3c" textLength="226.85" lengthAdjust="spacingAndGlyphs">RICEVITORE</text>
<text x="327.62" y="1562.00" font-size="39.54" fill="#a88a3c" textLength="239.58" lengthAdjust="spacingAndGlyphs">AGGIUNTIVO</text>
<text x="584.36" y="1562.00" font-size="39.54" fill="#a88a3c" textLength="71.13" lengthAdjust="spacingAndGlyphs">PER</text>
<text x="673.78" y="1562.00" font-size="39.54" fill="#a88a3c" textLength="188.47" lengthAdjust="spacingAndGlyphs">14.2800.6</text>
<text x="80.70" y="1607.00" font-size="25.58" fill="#1c1c1c" textLength="119.48" lengthAdjust="spacingAndGlyphs">Ricevitore</text>
<text x="203.24" y="1607.00" font-size="25.58" fill="#1c1c1c" textLength="125.92" lengthAdjust="spacingAndGlyphs">aggiuntivo</text>
<text x="331.25" y="1607.00" font-size="25.58" fill="#1c1c1c" textLength="39.50" lengthAdjust="spacingAndGlyphs">per</text>
<text x="380.50" y="1607.00" font-size="25.58" fill="#1c1c1c" textLength="102.21" lengthAdjust="spacingAndGlyphs">extender</text>
<text x="486.06" y="1607.00" font-size="25.58" fill="#1c1c1c" textLength="51.39" lengthAdjust="spacingAndGlyphs">KVM</text>
<text x="545.94" y="1607.00" font-size="25.58" fill="#1c1c1c" textLength="64.28" lengthAdjust="spacingAndGlyphs">HDMI</text>
<text x="613.72" y="1607.00" font-size="25.58" fill="#1c1c1c" textLength="76.02" lengthAdjust="spacingAndGlyphs">1080p</text>
<text x="81.74" y="1645.00" font-size="25.29" fill="#1c1c1c" textLength="188.05" lengthAdjust="spacingAndGlyphs">120m14.2800.6</text>
<text x="700.70" y="1650.50" font-size="16.28" fill="#1c1c1c" textLength="126.17" lengthAdjust="spacingAndGlyphs">Connessioni RX</text>
<text x="1030.66" y="1650.50" font-size="16.28" fill="#1c1c1c" textLength="137.13" lengthAdjust="spacingAndGlyphs">1x HDMI (OUT)  /</text>
<text x="1031.51" y="1670.30" font-size="16.28" fill="#1c1c1c" textLength="158.59" lengthAdjust="spacingAndGlyphs">2 x USB  “A”2.0 (IN)</text>
<text x="701.56" y="1696.00" font-size="16.28" fill="#1c1c1c" textLength="126.42" lengthAdjust="spacingAndGlyphs">Alimentazione5</text>
<text x="1041.83" y="1696.00" font-size="16.28" fill="#1c1c1c" textLength="27.16" lengthAdjust="spacingAndGlyphs">V 1</text>
<text x="700.09" y="1723.10" font-size="16.28" fill="#1c1c1c" textLength="91.12" lengthAdjust="spacingAndGlyphs">MaterialeM</text>
<text x="1046.04" y="1723.10" font-size="16.28" fill="#1c1c1c" textLength="37.54" lengthAdjust="spacingAndGlyphs">etall</text>
<text x="700.04" y="1748.90" font-size="16.28" fill="#1c1c1c" textLength="128.09" lengthAdjust="spacingAndGlyphs">DimensioniRx1</text>
<text x="1041.46" y="1748.90" font-size="16.28" fill="#1c1c1c" textLength="97.89" lengthAdjust="spacingAndGlyphs">10x90x27m</text>
<text x="700.67" y="1775.40" font-size="16.28" fill="#1c1c1c" textLength="66.91" lengthAdjust="spacingAndGlyphs">ColoreN</text>
<text x="1043.20" y="1775.40" font-size="16.28" fill="#1c1c1c" textLength="27.40" lengthAdjust="spacingAndGlyphs">ero</text>
<text x="700.13" y="1802.20" font-size="16.28" fill="#1c1c1c" textLength="50.86" lengthAdjust="spacingAndGlyphs">Peso1</text>
<text x="1041.67" y="1802.20" font-size="16.28" fill="#1c1c1c" textLength="20.28" lengthAdjust="spacingAndGlyphs">65</text>
<rect x="695.2" y="1672.8" width="612" height="1.6" fill="#bababa"/>
<rect x="695.2" y="1699.2" width="612" height="1.6" fill="#bababa"/>
<rect x="695.2" y="1726.1" width="612" height="1.6" fill="#bababa"/>
<rect x="695.2" y="1752.3" width="612" height="1.6" fill="#bababa"/>
<rect x="695.2" y="1778.4" width="612" height="1.6" fill="#bababa"/>
<rect x="695.2" y="1805.3" width="612" height="1.6" fill="#bababa"/>
</svg></body></html>
